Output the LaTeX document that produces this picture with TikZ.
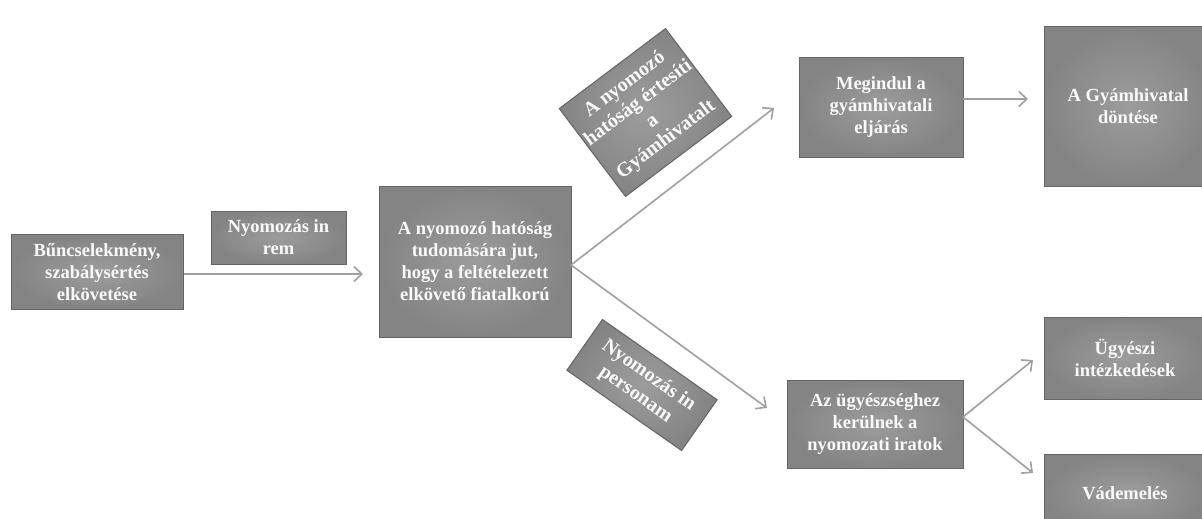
\documentclass[tikz,border=0pt]{standalone}
\usepackage{fontspec}
\setmainfont{Liberation Serif}
\usetikzlibrary{arrows.meta}
\definecolor{boxin}{RGB}{156,156,156}
\definecolor{boxout}{RGB}{132,132,132}
\definecolor{boxline}{RGB}{100,100,100}
\definecolor{arr}{RGB}{160,160,160}
\definecolor{txt}{RGB}{250,250,250}
\begin{document}
\begin{tikzpicture}[x=1pt,y=-1pt,
  box/.style={draw=boxline, line width=1pt, inner color=boxin, outer color=boxout,
    text=txt, font=\bfseries\fontsize{18.5}{22}\selectfont, align=center,
    inner sep=0pt, anchor=center},
  tilted/.style={box, font=\bfseries\fontsize{20}{23}\selectfont},
  conn/.style={draw=arr, line width=1.6pt, -{Straight Barb[length=8pt,width=15pt]}}]
\useasboundingbox (0,0) rectangle (1202,519);
\fill[white] (0,0) rectangle (1202,519);
\clip (0,0) rectangle (1202,519);

\node[box, minimum width=172pt, minimum height=75pt] (b1) at (97,272)
  {Bűncselekmény,\\szabálysértés\\elkövetése};
\node[box, minimum width=135pt, minimum height=53pt] (rem) at (278.5,237.5)
  {Nyomozás in\\rem};
\node[box, minimum width=192pt, minimum height=151pt] (big) at (475,261.5)
  {A nyomozó hatóság\\tudomására jut,\\hogy a feltételezett\\elkövető fiatalkorú};
\node[tilted, minimum width=133pt, minimum height=110pt, rotate=37] (gy) at (645.5,112.5)
  {A nyomozó\\hatóság értesíti\\a\\Gyámhivatalt};
\node[box, minimum width=164pt, minimum height=99pt] (meg) at (881,107.5)
  {Megindul a\\gyámhivatali\\eljárás};
\node[box, minimum width=168pt, minimum height=159pt] (dont) at (1128,106.5)
  {A Gyámhivatal\\döntése};
\node[tilted, minimum width=140pt, minimum height=62pt, rotate=-35] (pers) at (642,385)
  {Nyomozás in\\personam};
\node[box, minimum width=176pt, minimum height=88pt] (ugy) at (875,424)
  {Az ügyészséghez\\kerülnek a\\nyomozati iratok};
\node[box, minimum width=162pt, minimum height=82pt] (ugyi) at (1125,358)
  {Ügyészi\\intézkedések};
\node[box, minimum width=162pt, minimum height=78pt] (vad) at (1125,493)
  {Vádemelés};

\coordinate (fork) at (571,265);
\coordinate (t1) at (363,274);
\coordinate (t2) at (774,108);
\coordinate (t3) at (767,408);
\coordinate (m1) at (963,99);
\coordinate (t4) at (1028,99);
\coordinate (u1) at (963,417);
\coordinate (t5) at (1033,360);
\coordinate (t6) at (1033,473);

\draw[conn] (b1.east |- t1) -- (t1);
\draw[conn] (fork) -- (t2);
\draw[conn] (fork) -- (t3);
\draw[conn] (m1) -- (t4);
\draw[conn] (u1) -- (t5);
\draw[conn] (u1) -- (t6);
\end{tikzpicture}
\end{document}
